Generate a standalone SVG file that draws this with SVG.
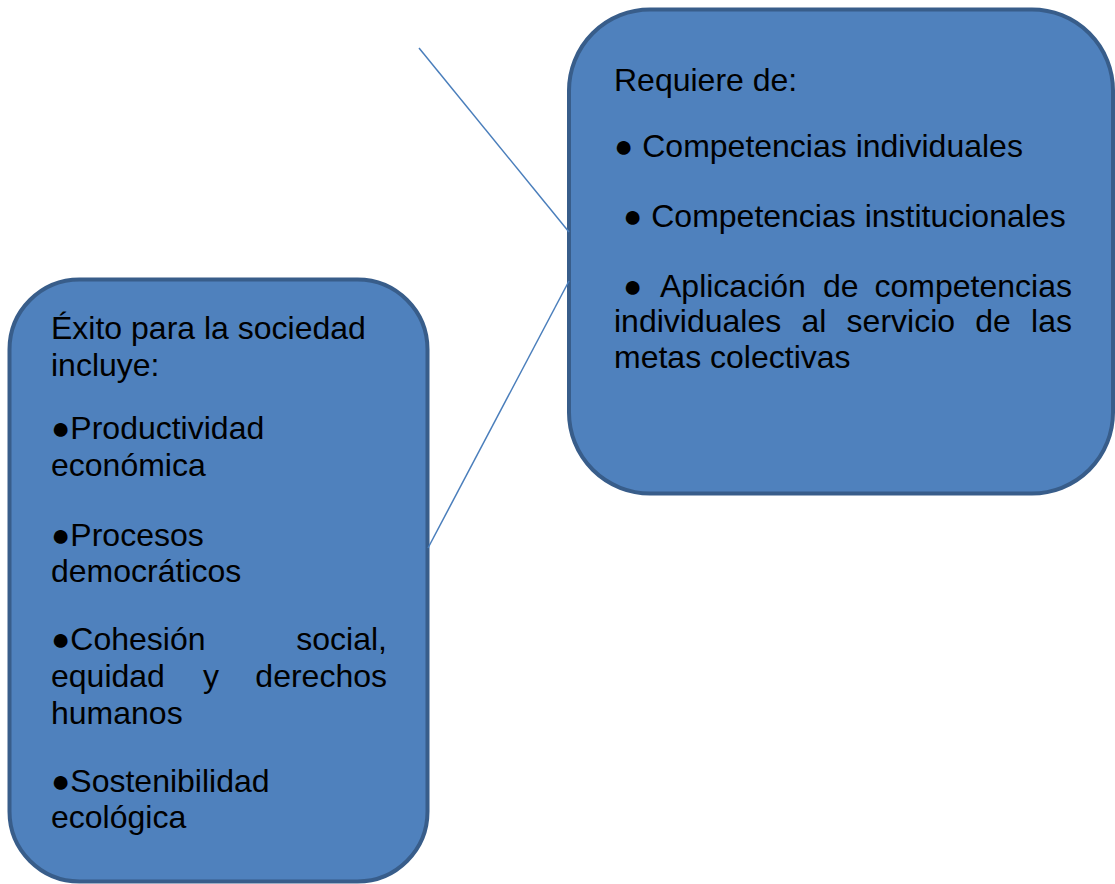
<svg xmlns="http://www.w3.org/2000/svg" width="1115" height="884" viewBox="0 0 1115 884">
<style>
.box{fill:#4F81BD;stroke:#385D8A;stroke-width:4}
.t{font-family:"Liberation Sans",Arial,sans-serif;font-size:32px;fill:#000}
.e{text-anchor:end}
.conn{stroke:#4A7EBB;stroke-width:1.5;fill:none}
</style>
<rect width="1115" height="884" fill="#fff"/>
<g id="node-requiere">
<rect class="box" x="569" y="9.5" width="544" height="484" rx="81" ry="81"/>
<text class="t" x="614" y="91">Requiere de:</text>
<text class="t" x="614" y="157">● Competencias individuales</text>
<text class="t" x="623" y="227">● Competencias institucionales</text>
<text class="t" y="297"><tspan x="623">●</tspan><tspan x="660">Aplicación</tspan><tspan x="823">de</tspan><tspan class="e" x="1072">competencias</tspan></text>
<text class="t" y="332"><tspan x="614">individuales</tspan><tspan x="801.4">al</tspan><tspan x="846.6">servicio</tspan><tspan x="975.3">de</tspan><tspan class="e" x="1072">las</tspan></text>
<text class="t" x="614" y="368">metas colectivas</text>
</g>
<g id="node-exito">
<rect class="box" x="9.5" y="279.5" width="418" height="602" rx="70" ry="70"/>
<text class="t" x="51" y="339">Éxito para la sociedad</text>
<text class="t" x="51" y="376">incluye:</text>
<text class="t" x="51" y="439">●Productividad</text>
<text class="t" x="51" y="476">económica</text>
<text class="t" x="51" y="546">●Procesos</text>
<text class="t" x="51" y="582">democráticos</text>
<text class="t" y="650"><tspan x="51">●Cohesión</tspan><tspan class="e" x="387">social,</tspan></text>
<text class="t" y="687"><tspan x="51">equidad</tspan><tspan x="203">y</tspan><tspan class="e" x="387">derechos</tspan></text>
<text class="t" x="51" y="724">humanos</text>
<text class="t" x="51" y="792">●Sostenibilidad</text>
<text class="t" x="51" y="828">ecológica</text>
</g>
<g id="connectors">
<line class="conn" x1="419" y1="48" x2="569" y2="232"/>
<line class="conn" x1="569" y1="281" x2="428" y2="548"/>
</g>
</svg>
